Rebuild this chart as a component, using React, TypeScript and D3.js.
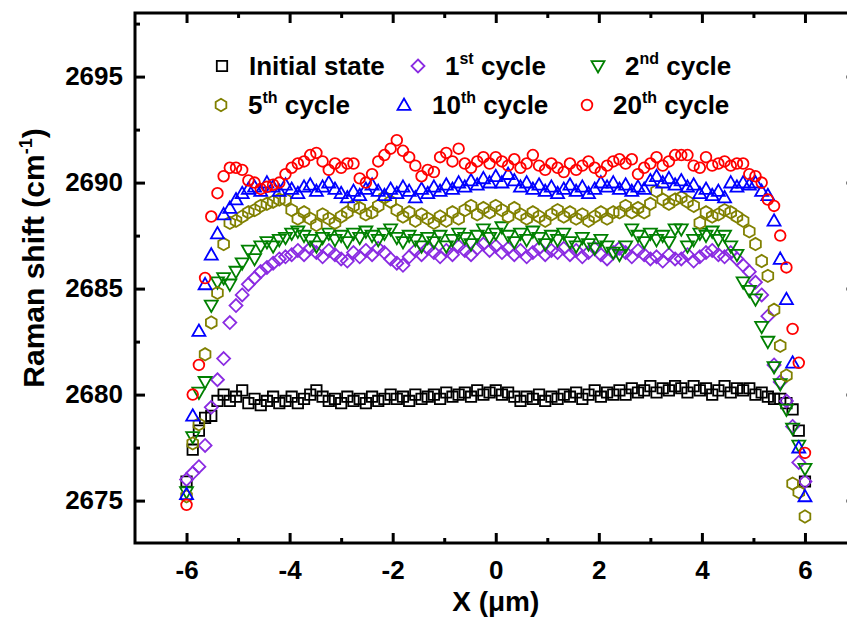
import React, { useRef, useEffect } from "react";
import * as d3 from "d3";

// sample positions along the line scan (µm)
const xPositions = d3.range(101).map((i) => -6 + 0.12 * i);

const initialState = [
  2675.9, 2677.4, 2678.3, 2678.9, 2679.0, 2679.7, 2680.0, 2679.7, 2679.9, 2680.2,
  2679.6, 2679.8, 2679.5, 2679.7, 2679.9, 2679.6, 2679.7, 2679.9, 2679.6, 2679.8,
  2680.0, 2680.2, 2679.9, 2679.7, 2679.8, 2679.6, 2679.9, 2679.7, 2679.8, 2679.6,
  2679.9, 2679.7, 2679.8, 2680.0, 2679.8, 2679.9, 2679.7, 2680.0, 2679.8, 2679.9,
  2680.0, 2679.8, 2680.1, 2679.9, 2680.0, 2680.1, 2679.9, 2680.2, 2680.0, 2680.1,
  2680.2, 2680.0, 2680.1, 2679.9, 2679.7, 2679.9, 2679.8, 2680.0, 2679.7, 2679.9,
  2679.8, 2680.0, 2679.9, 2680.1, 2679.8, 2680.0, 2680.2, 2679.9, 2680.1, 2680.0,
  2680.2, 2680.0, 2680.3, 2680.1, 2680.2, 2680.4, 2680.1, 2680.3, 2680.2, 2680.4,
  2680.3, 2680.1, 2680.4, 2680.2, 2680.3, 2680.0, 2680.2, 2680.4, 2680.1, 2680.3,
  2680.2, 2680.3, 2680.0, 2680.1, 2679.9, 2679.8, 2679.8, 2679.6, 2679.3, 2678.3,
  2675.9,
];

const cycle1 = [
  2676.0, 2676.3, 2676.6, 2677.6, 2679.4, 2680.7, 2681.7, 2683.4, 2684.2, 2684.7,
  2685.2, 2685.5, 2685.8, 2686.0, 2686.2, 2686.4, 2686.5, 2686.6, 2686.8, 2686.6,
  2686.9, 2686.7, 2686.5, 2686.8, 2686.6, 2686.4, 2686.3, 2686.7, 2686.5, 2686.8,
  2686.6, 2686.9, 2686.7, 2686.4, 2686.2, 2686.1, 2686.5, 2686.8, 2686.6, 2686.9,
  2686.7, 2686.5, 2686.8, 2686.6, 2687.0, 2686.8, 2686.6, 2686.9, 2687.1, 2686.8,
  2687.0, 2686.7, 2686.9, 2686.6, 2686.8, 2686.5, 2686.7, 2686.9, 2686.6, 2686.8,
  2686.7, 2686.9, 2686.6, 2686.8, 2686.5, 2686.7, 2686.9, 2686.6, 2686.4, 2686.7,
  2686.9, 2686.7, 2686.5, 2686.8, 2686.6, 2686.4, 2686.5, 2686.3, 2686.6, 2686.4,
  2686.4, 2686.6, 2686.3, 2686.5, 2686.7, 2686.8, 2686.6, 2686.5, 2686.7, 2686.4,
  2686.1, 2685.8, 2685.3, 2684.7, 2683.7, 2681.4, 2680.6, 2679.7, 2678.5, 2676.8,
  2675.9,
];

const cycle2 = [
  2675.4, 2678.0, 2680.1, 2680.6, 2684.2, 2685.3, 2685.5, 2685.2, 2685.8, 2686.2,
  2686.8, 2686.4, 2687.0, 2687.2, 2687.0, 2687.3, 2687.4, 2687.6, 2687.7, 2687.5,
  2687.3, 2687.0, 2687.4, 2687.6, 2687.3, 2687.5, 2687.2, 2687.6, 2687.4, 2687.7,
  2687.5, 2687.3, 2687.6, 2687.8, 2687.4, 2687.2, 2687.5, 2687.3, 2687.0, 2687.4,
  2687.2, 2687.5, 2687.0, 2687.3, 2687.6, 2687.4, 2687.1, 2687.5, 2687.8, 2687.4,
  2687.6, 2687.9, 2687.5, 2687.2, 2687.6, 2687.3, 2687.7, 2687.4, 2687.1, 2687.5,
  2687.3, 2687.6, 2687.2, 2687.0, 2687.4, 2687.1, 2686.9, 2687.3, 2687.0, 2686.7,
  2686.6, 2687.0, 2687.8, 2687.5, 2687.2, 2687.6, 2687.3, 2687.5, 2687.2, 2687.8,
  2687.8, 2687.0, 2687.3, 2687.6, 2687.5, 2687.7, 2687.3, 2687.5, 2687.0, 2686.6,
  2685.3, 2684.9, 2684.5, 2683.2, 2682.5, 2681.3, 2680.5, 2679.3, 2678.4, 2677.6,
  2676.5,
];

const cycle5 = [
  2675.2, 2677.7, 2678.6, 2681.9, 2683.4, 2684.8, 2687.1, 2688.1, 2688.2, 2688.4,
  2688.6, 2688.7, 2688.9, 2689.0, 2689.1, 2689.2, 2689.2, 2688.7, 2688.3, 2688.6,
  2688.3, 2688.0, 2688.5, 2688.3, 2688.1, 2688.4, 2688.6, 2688.9, 2688.8, 2688.5,
  2688.6, 2688.9, 2689.3, 2689.1, 2688.7, 2688.4, 2688.6, 2688.2, 2688.5, 2688.3,
  2688.1, 2688.4, 2688.2, 2688.6, 2688.3, 2688.7, 2688.9, 2688.5, 2688.8, 2688.6,
  2688.9, 2688.7, 2688.4, 2688.8, 2688.5, 2688.3, 2688.6, 2688.4, 2688.2, 2688.5,
  2688.7, 2688.4, 2688.6, 2688.3, 2688.5, 2688.2, 2688.4, 2688.6, 2688.3, 2688.6,
  2688.6, 2688.9, 2688.6, 2688.8, 2688.6, 2689.0, 2689.6, 2689.2, 2689.0, 2689.2,
  2689.3, 2689.1, 2688.9, 2688.1, 2688.6, 2688.4, 2688.5, 2688.7, 2688.6, 2688.4,
  2688.2, 2687.7, 2687.1, 2686.3, 2685.6, 2684.0, 2682.3, 2680.9, 2675.8, 2675.4,
  2674.25,
];

const cycle10 = [
  2675.3, 2679.0, 2683.0, 2685.2, 2686.6, 2687.6, 2688.5, 2688.8, 2689.2, 2689.5,
  2689.7, 2689.8, 2689.6, 2690.0, 2689.8, 2689.6, 2689.9, 2689.7, 2689.5, 2689.8,
  2689.9, 2689.6, 2689.8, 2690.0, 2689.7, 2689.5, 2689.3, 2689.6, 2689.4, 2689.7,
  2689.9, 2689.6, 2689.4, 2689.7, 2689.5, 2689.8, 2689.6, 2689.3, 2689.7, 2689.5,
  2689.8, 2689.6, 2689.9, 2689.7, 2690.0, 2689.8, 2690.1, 2689.9, 2690.2, 2690.0,
  2690.3, 2690.0, 2690.4, 2690.1, 2689.8, 2690.0, 2689.7, 2689.9, 2689.6, 2689.8,
  2689.5, 2689.7, 2689.9, 2689.6, 2689.8, 2689.5, 2689.7, 2690.0, 2689.8, 2690.0,
  2689.7, 2689.9, 2689.6, 2689.8, 2689.7, 2690.1, 2690.3, 2690.0, 2690.2, 2689.9,
  2690.1, 2689.8, 2689.9, 2689.5, 2689.7, 2689.4, 2689.6, 2689.3, 2690.0, 2689.8,
  2690.0, 2689.9, 2690.0, 2689.6, 2689.4, 2688.2, 2686.4, 2684.5, 2681.5, 2677.5,
  2675.2,
];

const cycle20 = [
  2674.8, 2680.0, 2681.4, 2685.5, 2688.4, 2689.5, 2690.3, 2690.7, 2690.7, 2690.6,
  2690.1, 2690.0, 2689.7, 2689.8, 2689.9, 2690.0, 2690.4, 2690.7, 2690.9, 2691.0,
  2691.3, 2691.4, 2691.0, 2690.6, 2690.9, 2690.7, 2690.9, 2690.9, 2690.2, 2690.0,
  2690.4, 2691.0, 2691.3, 2691.6, 2692.0, 2691.5, 2691.2, 2690.8, 2690.3, 2690.6,
  2690.5, 2691.2, 2691.4, 2691.0, 2691.6, 2690.9, 2690.7, 2691.0, 2691.2, 2690.9,
  2691.2, 2691.0, 2690.8, 2691.1, 2690.7, 2690.9, 2691.3, 2690.8, 2690.6, 2690.9,
  2690.7, 2690.5, 2690.9, 2690.6, 2690.8, 2691.0, 2690.7, 2690.5, 2690.8, 2691.0,
  2691.1, 2690.9, 2691.1, 2690.4, 2690.7, 2690.9, 2691.2, 2690.8, 2691.0, 2691.3,
  2691.3, 2691.3, 2690.8, 2690.7, 2691.2, 2690.8, 2690.9, 2691.0, 2690.8, 2690.9,
  2690.9, 2690.4, 2690.3, 2690.0, 2689.2, 2688.9, 2687.5, 2686.0, 2683.1, 2681.5,
  2677.25,
];

const seriesValues = [initialState, cycle1, cycle2, cycle5, cycle10, cycle20];
const seriesColors = ["#000000", "#8a2be2", "#008000", "#808000", "#0000ff", "#ff0000"];
const seriesShapes = ["square", "diamond", "triangleDown", "hexagon", "triangleUp", "circle"];
// legend label: [number, superscript, rest]
const seriesLabels = [
  ["Initial state", "", ""],
  ["1", "st", " cycle"],
  ["2", "nd", " cycle"],
  ["5", "th", " cycle"],
  ["10", "th", " cycle"],
  ["20", "th", " cycle"],
];

const xMajorTicks = [-6, -4, -2, 0, 2, 4, 6];
const xMinorTicks = [-5, -3, -1, 1, 3, 5];
const yMajorTicks = [2675, 2680, 2685, 2690, 2695];
const yMinorTicks = [2677.5, 2682.5, 2687.5, 2692.5, 2697.5];

const FONT = "Arial, 'Liberation Sans', sans-serif";

// marker outline centred on 0,0
const markerPath = (shape, r) => {
  const p = d3.path();
  const poly = (pts) => {
    pts.forEach(([px, py], i) => (i ? p.lineTo(px, py) : p.moveTo(px, py)));
    p.closePath();
  };
  if (shape === "square") poly([[-r * 0.8, -r * 0.8], [r * 0.8, -r * 0.8], [r * 0.8, r * 0.8], [-r * 0.8, r * 0.8]]);
  else if (shape === "diamond") poly([[0, -r], [r, 0], [0, r], [-r, 0]]);
  else if (shape === "triangleUp") poly([[0, -r], [r, r * 0.75], [-r, r * 0.75]]);
  else if (shape === "triangleDown") poly([[0, r], [r, -r * 0.75], [-r, -r * 0.75]]);
  else if (shape === "hexagon")
    poly(d3.range(6).map((k) => [r * 0.95 * Math.cos(Math.PI / 2 + (k * Math.PI) / 3), r * 0.95 * Math.sin(Math.PI / 2 + (k * Math.PI) / 3)]));
  else {
    p.moveTo(r * 0.82, 0);
    p.arc(0, 0, r * 0.82, 0, Math.PI * 2);
  }
  return p.toString();
};

const App = () => {
  const svgRef = useRef(null);

  useEffect(() => {
    const svg = d3.select(svgRef.current);
    svg.selectAll("*").remove();

    const left = 135, right = 856.5, top = 13, bottom = 543;
    const x = d3.scaleLinear().domain([-7, 7]).range([left, right]);
    const y = d3.scaleLinear().domain([2673, 2698]).range([bottom, top]);

    // data markers
    seriesValues.forEach((vals, s) => {
      svg
        .append("g")
        .selectAll("path")
        .data(vals)
        .enter()
        .append("path")
        .attr("transform", (d, i) => `translate(${x(xPositions[i])},${y(d)})`)
        .attr("d", markerPath(seriesShapes[s], 6.5))
        .attr("fill", "none")
        .attr("stroke", seriesColors[s])
        .attr("stroke-width", 1.8);
    });

    // frame
    svg
      .append("rect")
      .attr("x", left)
      .attr("y", top)
      .attr("width", right - left)
      .attr("height", bottom - top)
      .attr("fill", "none")
      .attr("stroke", "#000")
      .attr("stroke-width", 3);

    const styleAxis = (g) => {
      g.select(".domain").remove();
      g.selectAll("line").attr("stroke", "#000").attr("stroke-width", 3);
      g.selectAll("text")
        .attr("font-family", FONT)
        .attr("font-weight", "bold")
        .attr("font-size", 26)
        .attr("fill", "#000");
    };
    const plain = (d) => String(d);

    // bottom / left axes with labels
    svg
      .append("g")
      .attr("transform", `translate(0,${bottom})`)
      .call(d3.axisBottom(x).tickValues(xMajorTicks).tickSize(-10).tickPadding(18).tickFormat(plain))
      .call(styleAxis);
    svg
      .append("g")
      .attr("transform", `translate(${left},0)`)
      .call(d3.axisLeft(y).tickValues(yMajorTicks).tickSize(-10).tickPadding(12).tickFormat(plain))
      .call(styleAxis);

    // top / right mirrored ticks, no labels
    svg
      .append("g")
      .attr("transform", `translate(0,${top})`)
      .call(d3.axisTop(x).tickValues(xMajorTicks).tickSize(-10).tickFormat(""))
      .call(styleAxis);
    svg
      .append("g")
      .attr("transform", `translate(${right},0)`)
      .call(d3.axisRight(y).tickValues(yMajorTicks).tickSize(-10).tickFormat(""))
      .call(styleAxis);

    // minor ticks
    [
      [d3.axisBottom(x).tickValues(xMinorTicks), `translate(0,${bottom})`],
      [d3.axisTop(x).tickValues(xMinorTicks), `translate(0,${top})`],
      [d3.axisLeft(y).tickValues(yMinorTicks), `translate(${left},0)`],
      [d3.axisRight(y).tickValues(yMinorTicks), `translate(${right},0)`],
    ].forEach(([axis, tr]) => {
      svg.append("g").attr("transform", tr).call(axis.tickSize(-5).tickFormat("")).call(styleAxis);
    });

    // axis titles
    svg
      .append("text")
      .attr("x", x(0))
      .attr("y", 611)
      .attr("text-anchor", "middle")
      .attr("font-family", FONT)
      .attr("font-weight", "bold")
      .attr("font-size", 28)
      .text("X (μm)");

    const yTitle = svg
      .append("text")
      .attr("transform", `translate(44,258) rotate(-90)`)
      .attr("text-anchor", "middle")
      .attr("font-family", FONT)
      .attr("font-weight", "bold")
      .attr("font-size", 30);
    yTitle.append("tspan").text("Raman shift (cm");
    yTitle.append("tspan").attr("font-size", 18).attr("dy", -12).text("-1");
    yTitle.append("tspan").attr("dy", 12).text(")");

    // legend
    const legendSymX = [222, 418, 598, 221, 404, 587];
    const legendTextX = [249, 445, 625, 248, 432, 613];
    const legendRowY = [66, 105];
    seriesLabels.forEach(([num, sup, rest], s) => {
      const ry = legendRowY[Math.floor(s / 3)];
      svg
        .append("path")
        .attr("transform", `translate(${legendSymX[s]},${ry})`)
        .attr("d", markerPath(seriesShapes[s], 6.5))
        .attr("fill", "none")
        .attr("stroke", seriesColors[s])
        .attr("stroke-width", 1.8);
      const t = svg
        .append("text")
        .attr("x", legendTextX[s])
        .attr("y", ry + 9)
        .attr("font-family", FONT)
        .attr("font-weight", "bold")
        .attr("font-size", 26);
      t.append("tspan").text(num);
      if (sup) {
        t.append("tspan").attr("font-size", 16).attr("dy", -11).text(sup);
        t.append("tspan").attr("dy", 11).text(rest);
      }
    });
  }, []);

  return (
    <svg
      ref={svgRef}
      width={847}
      height={617}
      style={{ position: "absolute", left: 0, top: 0, background: "#fff" }}
    ></svg>
  );
};

export default App;
